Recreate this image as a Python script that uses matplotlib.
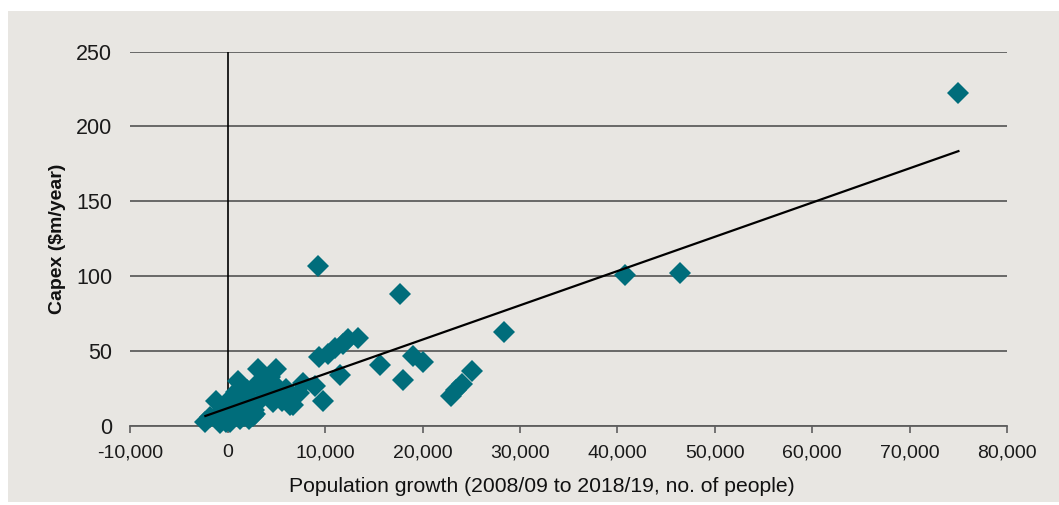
import numpy as np
import matplotlib
matplotlib.use("Agg")
import matplotlib.pyplot as plt
from matplotlib.patches import Rectangle
from matplotlib.ticker import FuncFormatter

# Council population growth vs. average capital expenditure
pop_growth = [
    -2300, -1200, -1000, -170, -200, 0, 300, 500, 800, 1030,
    1200, 1500, 1500, 1800, 2000, 2300, 2570, 2700, 3000, 3100,
    3400, 3600, 3900, 4200, 4300, 4600, 4970, 5000, 5300, 5600,
    6000, 6400, 6700, 7300, 7700, 9000, 9400, 9750, 10300, 11000,
    11500, 11800, 12300, 13400, 15600, 17700, 18000, 19000, 20000, 22900,
    23400, 24000, 25100, 28400, 40800, 46400, 75000, 9300,
    -1800, -800, 200, 690, 1300, 2200, 2800, 600, 1700,
]
capex = [
    3, 17, 8, 3, 7, 11, 19, 14, 23, 30,
    16, 21, 9, 12, 24, 18, 7, 11, 28, 38,
    18, 24, 29, 22, 33, 16, 38, 27, 21, 17,
    25, 14, 14, 22, 29, 27, 46, 17, 48, 52,
    34, 55, 58, 59, 41, 88, 31, 47, 43, 20,
    24, 28, 37, 63, 101, 102, 222, 107,
    6, 2, 3, 9, 5, 5, 8, 10, 7,
]

# Linear trend line (end points)
trend_x = [-2300, 75000]
trend_y = [6.7, 183.5]

x_ticks = list(range(-10000, 80001, 10000))
y_ticks = list(range(0, 251, 50))

teal = "#006D7B"
panel = "#E8E6E2"
grid_grey = "#5E5E5E"

fig = plt.figure(figsize=(10.59, 5.05), dpi=100)
fig.patch.set_facecolor("white")
fig.add_artist(Rectangle((8 / 1059, 3 / 505), 1051 / 1059, 491 / 505,
                         transform=fig.transFigure, facecolor=panel,
                         edgecolor="none", zorder=-10))

ax = fig.add_axes([0.1231, 0.1564, 0.951 - 0.1231, 0.898 - 0.1564])
ax.set_zorder(1)
ax.patch.set_visible(False)
ax.set_xlim(-10000, 80000)
ax.set_ylim(0, 250)
ax.set_xticks(x_ticks)
ax.set_yticks(y_ticks)

for side in ("top", "right", "left"):
    ax.spines[side].set_visible(False)
ax.spines["bottom"].set_color(grid_grey)
ax.spines["bottom"].set_linewidth(1.3)

ax.yaxis.grid(True, color=grid_grey, linewidth=1.3, zorder=1)
ax.set_axisbelow(True)
ax.axvline(0, color="black", linewidth=1.2, zorder=2)

ax.xaxis.set_major_formatter(FuncFormatter(lambda v, p: f"{v:,.0f}"))
ax.tick_params(axis="y", length=0, pad=13, labelsize=15.5, labelcolor="#1a1a1a")
ax.tick_params(axis="x", length=5, width=1.2, color=grid_grey, pad=8,
               labelsize=14, labelcolor="#1a1a1a")
for lbl in ax.get_xticklabels() + ax.get_yticklabels():
    lbl.set_fontfamily("Liberation Sans")

# Scatter points
ax.plot(pop_growth, capex, linestyle="none", marker="D", markersize=11,
        color=teal, markeredgewidth=0, zorder=3, clip_on=False)

# Trend line
ax.plot(trend_x, trend_y, color="black", linewidth=1.6, zorder=4)

fig.text(57 / 1059, 1 - 239 / 505, "Capex ($m/year)", rotation=90,
         ha="center", va="center", fontsize=14, fontweight="bold",
         family="Liberation Sans", color="#111111")

fig.text(542 / 1059, 1 - 487 / 505,
         "Population growth (2008/09 to 2018/19, no. of people)",
         ha="center", va="center", fontsize=15.2, family="Liberation Sans",
         color="#111111")

fig.savefig("out.png", dpi=100)
